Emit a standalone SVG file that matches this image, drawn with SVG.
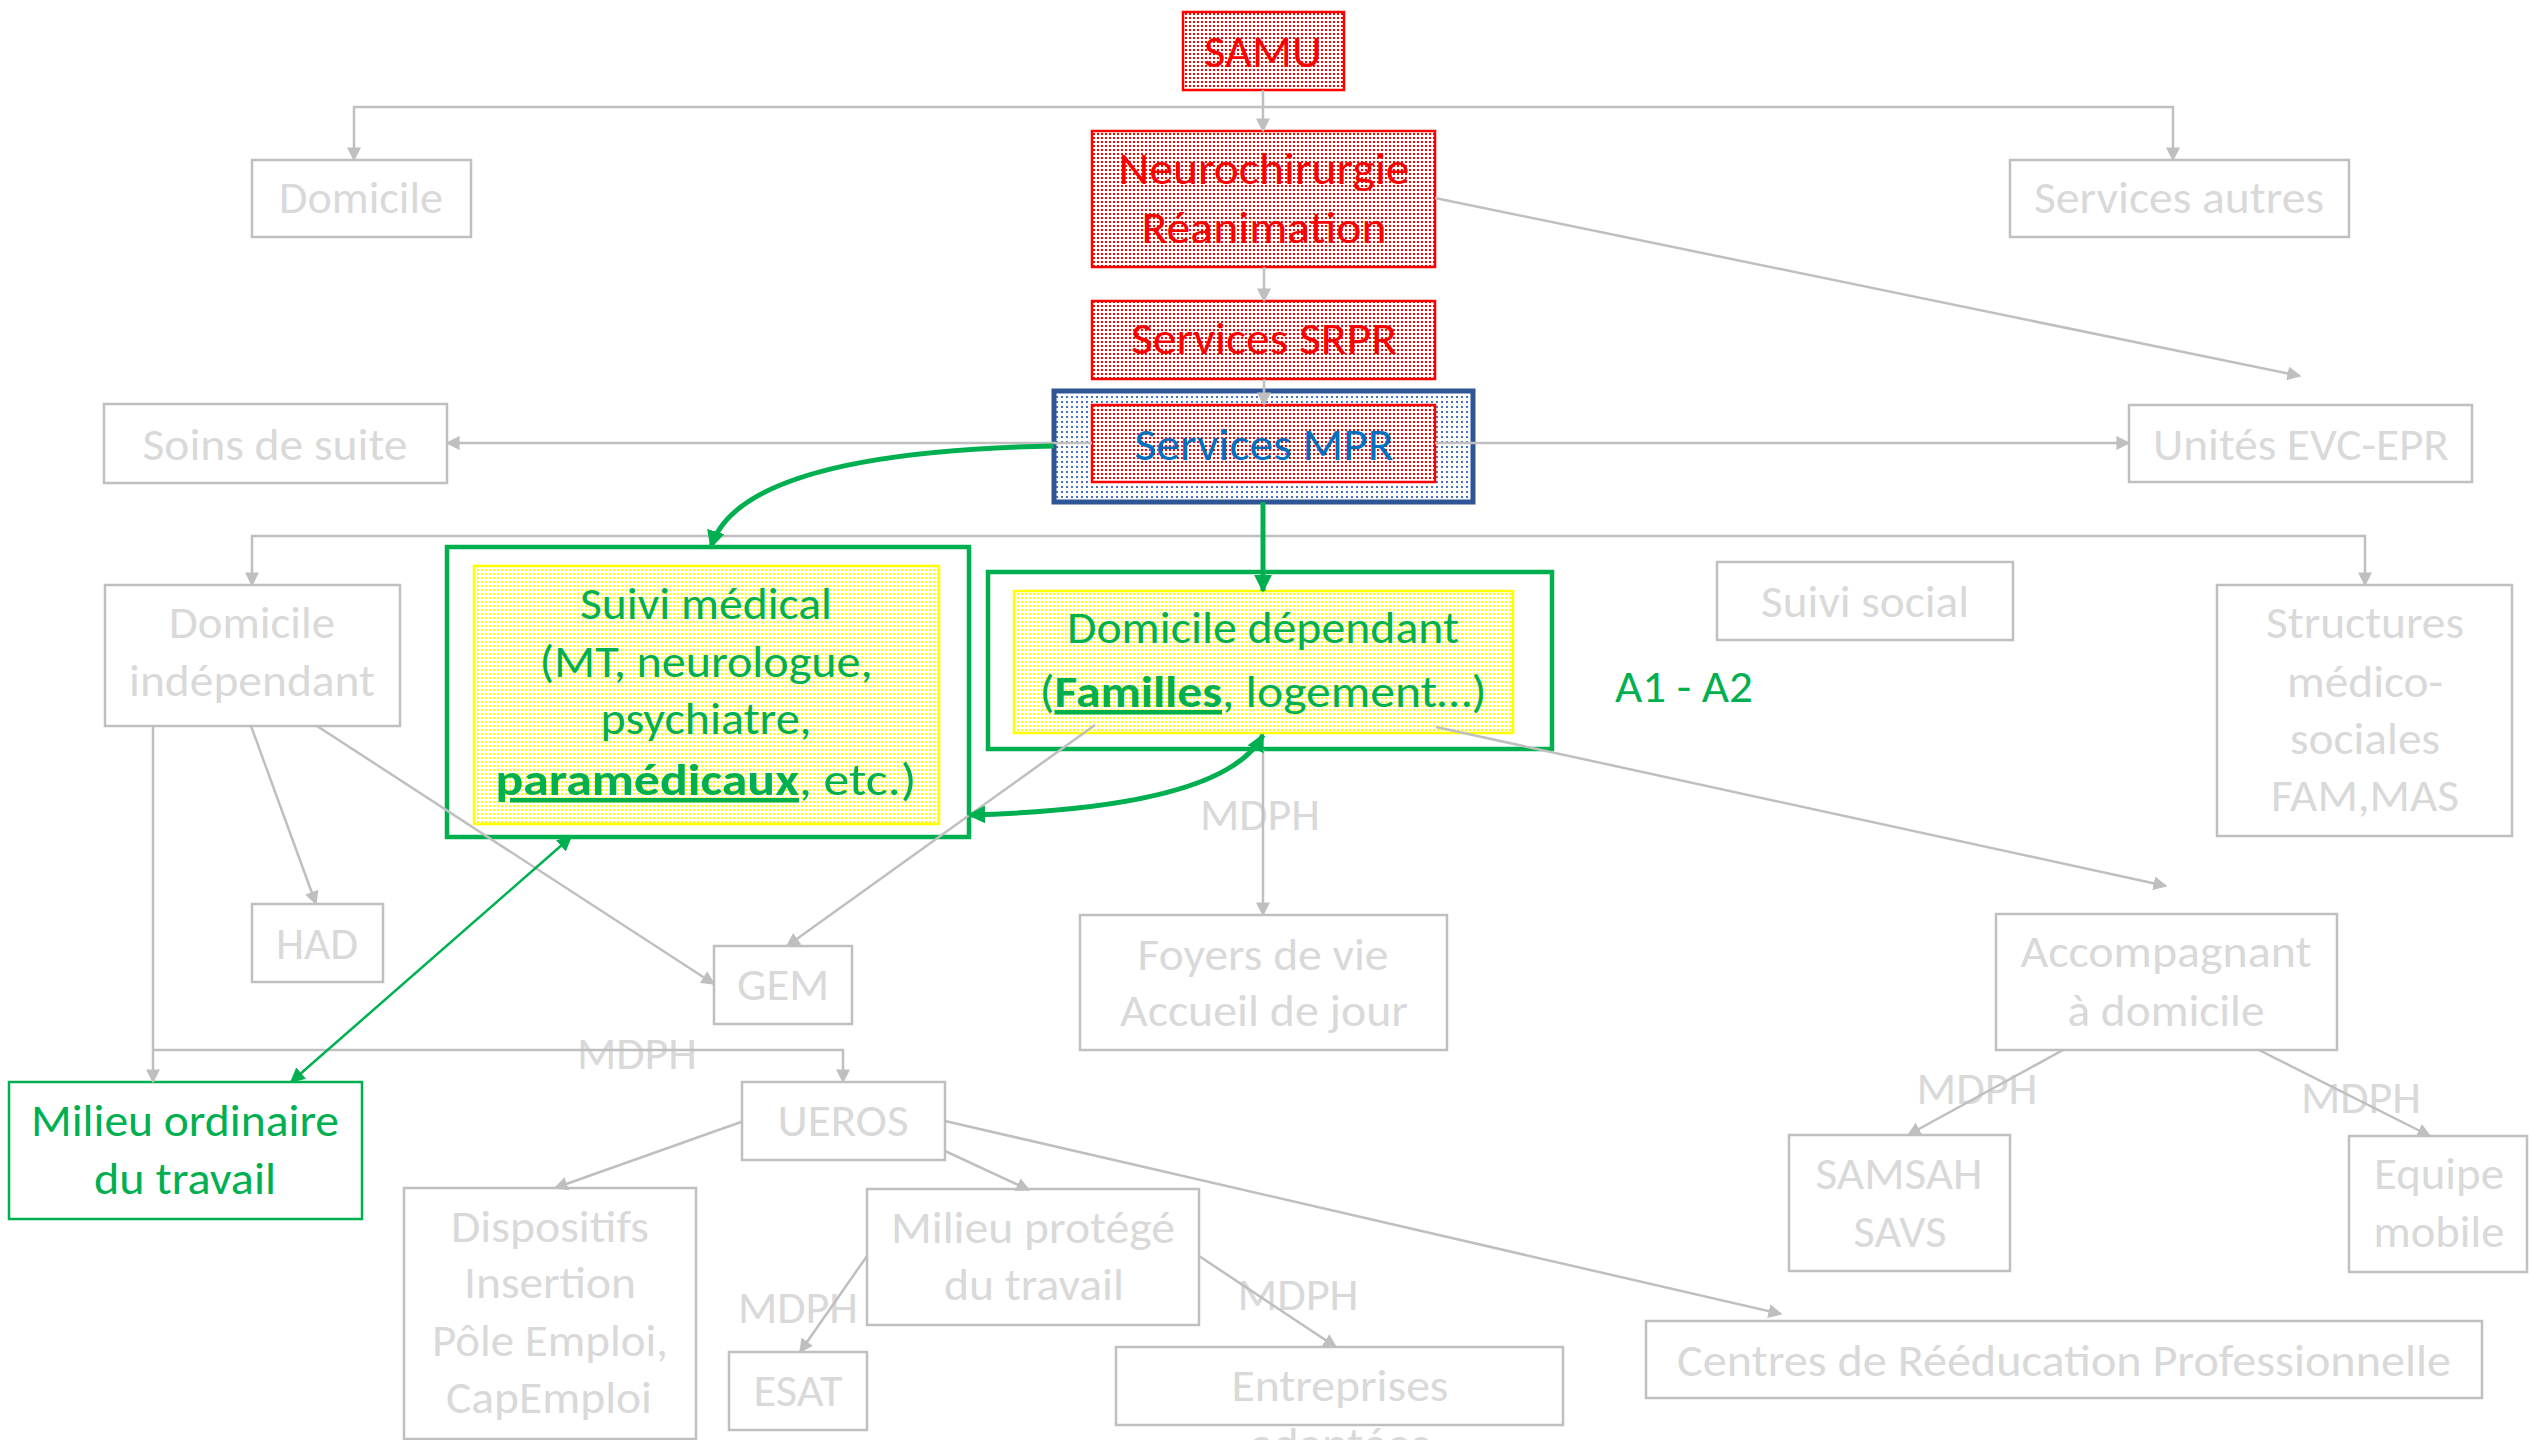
<svg xmlns="http://www.w3.org/2000/svg" width="2529" height="1440" viewBox="0 0 2529 1440">
<defs>
<pattern id="pRed" width="4" height="4" patternUnits="userSpaceOnUse"><rect width="4" height="4" fill="#fff"/><rect x="1" y="1" width="2" height="2" fill="#FF0000"/></pattern>
<pattern id="pBlue" width="5" height="5" patternUnits="userSpaceOnUse"><rect width="5" height="5" fill="#fff"/><rect x="1" y="1" width="2" height="2" fill="#4472C4"/></pattern>
<pattern id="pYel" width="4" height="4" patternUnits="userSpaceOnUse"><rect width="4" height="4" fill="#fff"/><rect x="1" y="1" width="2" height="2" fill="#FFFF00"/></pattern>
<marker id="ag" viewBox="0 0 10 10" refX="9" refY="5" markerWidth="14" markerHeight="14" markerUnits="userSpaceOnUse" orient="auto"><path d="M0,0 L10,5 L0,10 z" fill="#BFBFBF"/></marker>
<marker id="agr" viewBox="0 0 10 10" refX="9" refY="5" markerWidth="18" markerHeight="18" markerUnits="userSpaceOnUse" orient="auto-start-reverse"><path d="M0,0 L10,5 L0,10 z" fill="#00B050"/></marker>
<marker id="agrs" viewBox="0 0 10 10" refX="9" refY="5" markerWidth="15" markerHeight="15" markerUnits="userSpaceOnUse" orient="auto-start-reverse"><path d="M0,0 L10,5 L0,10 z" fill="#00B050"/></marker>
</defs>
<style>
.box{fill:#fff;stroke:#BFBFBF;stroke-width:2.5}
.rbox{fill:url(#pRed);stroke:#FF0000;stroke-width:2.5}
.t{font-family:Carlito,Lato,'Liberation Sans',sans-serif;font-size:45px;text-anchor:middle}
.g{fill:#D9D9D9}
.r{fill:#FF0000}
.gr{fill:#00B050}
.b{fill:#0070C0}
.c{fill:none;stroke:#BFBFBF;stroke-width:2.5;marker-end:url(#ag)}
.gc{fill:none;stroke:#00B050;stroke-width:5}
.u{font-weight:bold;text-decoration:underline}
</style>
<rect width="2529" height="1440" fill="#fff"/>

<g id="samu"><rect class="rbox" x="1183" y="12" width="161" height="78"/><text class="t r" x="1263" y="67" textLength="118" lengthAdjust="spacingAndGlyphs">SAMU</text></g>
<g id="neuro"><rect class="rbox" x="1092" y="131" width="343" height="136"/><text class="t r" x="1264" y="184" textLength="291" lengthAdjust="spacingAndGlyphs">Neurochirurgie</text><text class="t r" x="1264" y="243" textLength="245" lengthAdjust="spacingAndGlyphs">Réanimation</text></g>
<g id="srpr"><rect class="rbox" x="1092" y="301" width="343" height="78"/><text class="t r" x="1264" y="354" textLength="266" lengthAdjust="spacingAndGlyphs">Services SRPR</text></g>
<g id="mpr"><rect x="1054" y="391" width="419" height="111" fill="url(#pBlue)" stroke="#2F5597" stroke-width="5"/><rect class="rbox" x="1092" y="405" width="343" height="77"/><text class="t b" x="1264" y="460" textLength="259" lengthAdjust="spacingAndGlyphs">Services MPR</text></g>

<g id="domicile"><rect class="box" x="252" y="160" width="219" height="77"/><text class="t g" x="361" y="213" textLength="164" lengthAdjust="spacingAndGlyphs">Domicile</text></g>
<g id="services-autres"><rect class="box" x="2010" y="160" width="339" height="77"/><text class="t g" x="2179" y="213" textLength="290" lengthAdjust="spacingAndGlyphs">Services autres</text></g>
<g id="soins"><rect class="box" x="104" y="404" width="343" height="79"/><text class="t g" x="275" y="460" textLength="265" lengthAdjust="spacingAndGlyphs">Soins de suite</text></g>
<g id="unites"><rect class="box" x="2129" y="405" width="343" height="77"/><text class="t g" x="2301" y="460" textLength="296" lengthAdjust="spacingAndGlyphs">Unités EVC-EPR</text></g>
<g id="dom-indep"><rect class="box" x="105" y="585" width="295" height="141"/><text class="t g" x="252" y="638" textLength="166" lengthAdjust="spacingAndGlyphs">Domicile</text><text class="t g" x="252" y="696" textLength="246" lengthAdjust="spacingAndGlyphs">indépendant</text></g>

<g id="suivi-medical"><rect x="447" y="547" width="522" height="290" fill="#fff" stroke="#00B050" stroke-width="4.5"/><rect x="474" y="566" width="465" height="258" fill="url(#pYel)" stroke="#FFFF00" stroke-width="2.5"/>
<text class="t gr" x="706" y="619" textLength="252" lengthAdjust="spacingAndGlyphs">Suivi médical</text>
<text class="t gr" x="706" y="677" textLength="333" lengthAdjust="spacingAndGlyphs">(MT, neurologue,</text>
<text class="t gr" x="706" y="734" textLength="211" lengthAdjust="spacingAndGlyphs">psychiatre,</text>
<text class="t gr" x="706" y="795" textLength="421" lengthAdjust="spacingAndGlyphs"><tspan class="u">paramédicaux</tspan>, etc.)</text></g>

<g id="dom-dep"><rect x="988" y="572" width="564" height="177" fill="#fff" stroke="#00B050" stroke-width="4.5"/><rect x="1014" y="591" width="499" height="142" fill="url(#pYel)" stroke="#FFFF00" stroke-width="2.5"/>
<text class="t gr" x="1263" y="643" textLength="392" lengthAdjust="spacingAndGlyphs">Domicile dépendant</text>
<text class="t gr" x="1263" y="707" textLength="447" lengthAdjust="spacingAndGlyphs">(<tspan class="u">Familles</tspan>, logement…)</text></g>

<g id="suivi-social"><rect class="box" x="1717" y="562" width="296" height="78"/><text class="t g" x="1865" y="617" textLength="208" lengthAdjust="spacingAndGlyphs">Suivi social</text></g>
<g id="a1a2"><text class="t gr" x="1684" y="702" textLength="138" lengthAdjust="spacingAndGlyphs">A1 - A2</text></g>
<g id="structures"><rect class="box" x="2217" y="585" width="295" height="251"/><text class="t g" x="2365" y="638" textLength="198" lengthAdjust="spacingAndGlyphs">Structures</text><text class="t g" x="2365" y="697" textLength="156" lengthAdjust="spacingAndGlyphs">médico-</text><text class="t g" x="2365" y="754" textLength="150" lengthAdjust="spacingAndGlyphs">sociales</text><text class="t g" x="2365" y="811" textLength="188" lengthAdjust="spacingAndGlyphs">FAM,MAS</text></g>
<g id="had"><rect class="box" x="252" y="904" width="131" height="78"/><text class="t g" x="317" y="959" textLength="82" lengthAdjust="spacingAndGlyphs">HAD</text></g>
<g id="gem"><rect class="box" x="714" y="946" width="138" height="78"/><text class="t g" x="783" y="1000" textLength="92" lengthAdjust="spacingAndGlyphs">GEM</text></g>
<g id="foyers"><rect class="box" x="1080" y="915" width="367" height="135"/><text class="t g" x="1263" y="970" textLength="251" lengthAdjust="spacingAndGlyphs">Foyers de vie</text><text class="t g" x="1264" y="1026" textLength="288" lengthAdjust="spacingAndGlyphs">Accueil de jour</text></g>
<g id="accomp"><rect class="box" x="1996" y="914" width="341" height="136"/><text class="t g" x="2166" y="967" textLength="291" lengthAdjust="spacingAndGlyphs">Accompagnant</text><text class="t g" x="2166" y="1026" textLength="197" lengthAdjust="spacingAndGlyphs">à domicile</text></g>
<g id="milieu-ordinaire"><rect x="9" y="1082" width="353" height="137" fill="#fff" stroke="#00B050" stroke-width="2.5"/><text class="t gr" x="185" y="1136" textLength="308" lengthAdjust="spacingAndGlyphs">Milieu ordinaire</text><text class="t gr" x="185" y="1194" textLength="182" lengthAdjust="spacingAndGlyphs">du travail</text></g>
<g id="ueros"><rect class="box" x="742" y="1082" width="203" height="78"/><text class="t g" x="843" y="1136" textLength="131" lengthAdjust="spacingAndGlyphs">UEROS</text></g>
<g id="dispositifs"><rect class="box" x="404" y="1188" width="292" height="251"/><text class="t g" x="550" y="1242" textLength="198" lengthAdjust="spacingAndGlyphs">Dispositifs</text><text class="t g" x="550" y="1298" textLength="172" lengthAdjust="spacingAndGlyphs">Insertion</text><text class="t g" x="550" y="1356" textLength="236" lengthAdjust="spacingAndGlyphs">Pôle Emploi,</text><text class="t g" x="549" y="1413" textLength="206" lengthAdjust="spacingAndGlyphs">CapEmploi</text></g>
<g id="milieu-protege"><rect class="box" x="867" y="1189" width="332" height="136"/><text class="t g" x="1033" y="1243" textLength="284" lengthAdjust="spacingAndGlyphs">Milieu protégé</text><text class="t g" x="1034" y="1300" textLength="180" lengthAdjust="spacingAndGlyphs">du travail</text></g>
<g id="esat"><rect class="box" x="729" y="1352" width="138" height="78"/><text class="t g" x="798" y="1406" textLength="89" lengthAdjust="spacingAndGlyphs">ESAT</text></g>
<g id="entreprises"><rect class="box" x="1116" y="1347" width="447" height="78"/><text class="t g" x="1340" y="1401" textLength="217" lengthAdjust="spacingAndGlyphs">Entreprises</text><text class="t g" x="1340" y="1459" textLength="180" lengthAdjust="spacingAndGlyphs">adaptées</text></g>
<g id="samsah"><rect class="box" x="1789" y="1135" width="221" height="136"/><text class="t g" x="1899" y="1189" textLength="167" lengthAdjust="spacingAndGlyphs">SAMSAH</text><text class="t g" x="1900" y="1247" textLength="93" lengthAdjust="spacingAndGlyphs">SAVS</text></g>
<g id="equipe"><rect class="box" x="2349" y="1136" width="178" height="136"/><text class="t g" x="2439" y="1189" textLength="130" lengthAdjust="spacingAndGlyphs">Equipe</text><text class="t g" x="2439" y="1247" textLength="131" lengthAdjust="spacingAndGlyphs">mobile</text></g>
<g id="centres"><rect class="box" x="1646" y="1321" width="836" height="77"/><text class="t g" x="2064" y="1376" textLength="774" lengthAdjust="spacingAndGlyphs">Centres de Rééducation Professionnelle</text></g>

<g id="labels">
<text class="t g" x="1260" y="830" textLength="120" lengthAdjust="spacingAndGlyphs">MDPH</text>
<text class="t g" x="637" y="1069" textLength="120" lengthAdjust="spacingAndGlyphs">MDPH</text>
<text class="t g" x="798" y="1323" textLength="120" lengthAdjust="spacingAndGlyphs">MDPH</text>
<text class="t g" x="1298" y="1310" textLength="121" lengthAdjust="spacingAndGlyphs">MDPH</text>
<text class="t g" x="1977" y="1104" textLength="121" lengthAdjust="spacingAndGlyphs">MDPH</text>
<text class="t g" x="2361" y="1113" textLength="120" lengthAdjust="spacingAndGlyphs">MDPH</text>
</g>

<g id="connectors">
<path class="c" d="M1263,90 V131"/>
<path class="c" d="M1263,107 H354 V160"/>
<path class="c" d="M1263,107 H2173 V160"/>
<path class="c" d="M1264,267 V301"/>
<path class="c" d="M1264,379 V405"/>
<path class="c" d="M1435,198 L2300,376"/>
<path class="c" d="M1092,443 H447"/>
<path class="c" d="M1435,443 H2129"/>
<path class="c" d="M1263,536 H252 V585"/>
<path class="c" d="M1263,536 H2365 V585"/>
<path class="c" d="M1263,749 V915"/>
<path class="c" d="M1095,725 L787,946"/>
<path class="c" d="M1436,727 L2166,886"/>
<path class="c" d="M251,726 L316,904"/>
<path class="c" d="M317,726 L714,984"/>
<path class="c" d="M153,726 V1082"/>
<path class="c" d="M153,1050 H843 V1082"/>
<path class="c" d="M741,1122 L555,1188"/>
<path class="c" d="M945,1151 L1029,1190"/>
<path class="c" d="M945,1121 L1781,1314"/>
<path class="c" d="M867,1256 L800,1352"/>
<path class="c" d="M1199,1256 L1336,1347"/>
<path class="c" d="M2063,1050 L1908,1135"/>
<path class="c" d="M2259,1050 L2430,1136"/>
</g>

<g id="green-connectors">
<path class="gc" d="M1054,446 Q740,452 711,547" marker-end="url(#agr)"/>
<path class="gc" d="M1263,502 V591" stroke-width="4.5" marker-end="url(#agr)"/>
<path class="gc" d="M1263,735 Q1225,808 969,815" marker-start="url(#agr)" marker-end="url(#agr)"/>
<path d="M291,1082 L571,837" fill="none" stroke="#00B050" stroke-width="2.5" marker-start="url(#agrs)" marker-end="url(#agrs)"/>
</g>
</svg>
